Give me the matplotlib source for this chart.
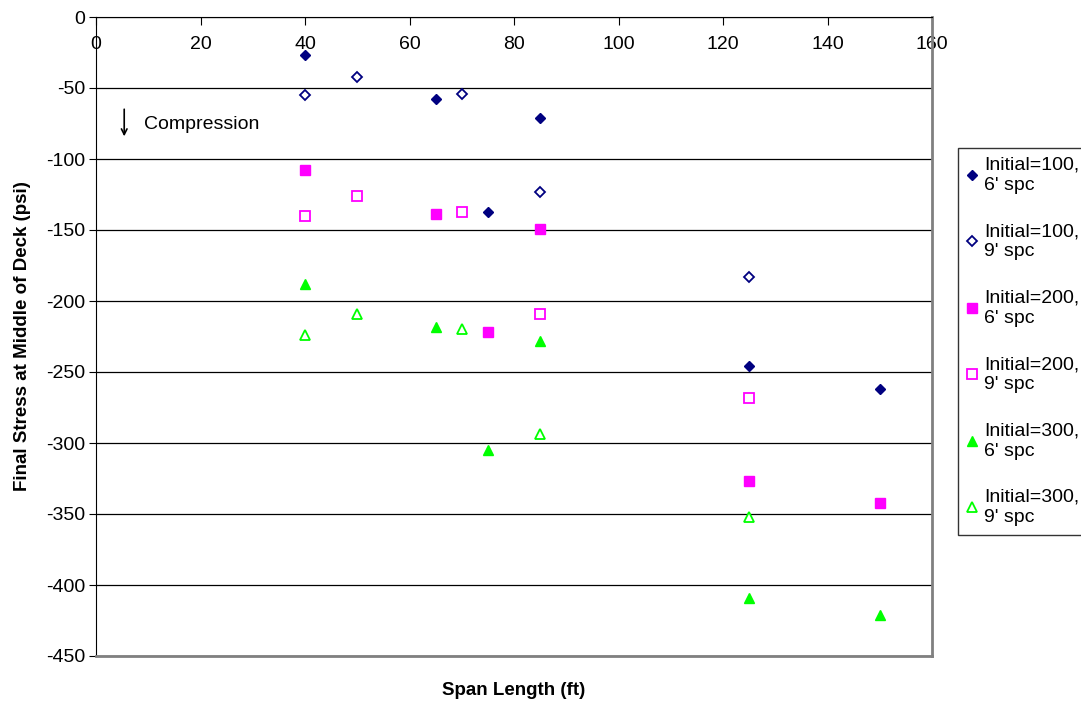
import matplotlib
matplotlib.use("Agg")
import matplotlib.pyplot as plt

plt.rcParams['font.family'] = ['Liberation Sans', 'DejaVu Sans']
plt.rcParams['axes.unicode_minus'] = False

# Span lengths (ft)
span_6 = [40, 65, 75, 85, 125, 150]
span_9 = [40, 50, 70, 85, 125]

# Final stress (psi)
s100_6 = [-27, -58, -137, -71, -246, -262]
s100_9 = [-55, -42, -54, -123, -183]
s200_6 = [-108, -139, -222, -149, -327, -342]
s200_9 = [-140, -126, -137, -209, -268]
s300_6 = [-188, -218, -305, -228, -409, -421]
s300_9 = [-224, -209, -220, -294, -352]

labels = ["Initial=100,\n6' spc", "Initial=100,\n9' spc",
          "Initial=200,\n6' spc", "Initial=200,\n9' spc",
          "Initial=300,\n6' spc", "Initial=300,\n9' spc"]

navy = '#000080'
mag = '#FF00FF'
lime = '#00FF00'

fig = plt.figure(figsize=(10.81, 7.03), dpi=100)
ax = fig.add_axes([96 / 1081, 1 - 656 / 703, 836 / 1081, 639 / 703])

ax.plot(span_6, s100_6, 'D', ms=5.5, color=navy, ls='none', label=labels[0])
ax.plot(span_9, s100_9, 'D', ms=5.5, mfc='white', mec=navy, mew=1.3, ls='none', label=labels[1])
ax.plot(span_6, s200_6, 's', ms=6.5, color=mag, ls='none', label=labels[2])
ax.plot(span_9, s200_9, 's', ms=6.5, mfc='white', mec=mag, mew=1.3, ls='none', label=labels[3])
ax.plot(span_6, s300_6, '^', ms=7, color=lime, ls='none', label=labels[4])
ax.plot(span_9, s300_9, '^', ms=7, mfc='white', mec=lime, mew=1.3, ls='none', label=labels[5])

ax.set_xlim(0, 160)
ax.set_ylim(-450, 0)
ax.set_xticks(range(0, 161, 20))
ax.set_yticks(range(-450, 1, 50))

ax.yaxis.grid(True, color='black', lw=0.9)
ax.set_axisbelow(True)

# x axis crosses at y = 0
ax.spines['bottom'].set_position(('data', 0))
ax.spines['bottom'].set_color('black')
ax.spines['top'].set_visible(False)
ax.spines['left'].set_color('black')
ax.spines['right'].set_color('#808080')
ax.spines['right'].set_linewidth(2)
ax.plot([0, 1], [0, 0], transform=ax.transAxes, color='#808080', lw=2,
        clip_on=False, zorder=3)

ax.tick_params(axis='x', direction='out', length=6, pad=8, labelsize=14)
ax.tick_params(axis='y', direction='out', length=5, pad=3, labelsize=14)

ax.set_xlabel('Span Length (ft)', fontsize=13.5, fontweight='bold')
ax.xaxis.set_label_coords(0.5, -0.04)
ax.set_ylabel('Final Stress at Middle of Deck (psi)', fontsize=13.5, fontweight='bold')
ax.yaxis.set_label_coords(-0.078, 0.5)

# compression note
ax.annotate('', xy=(5.4, -86), xytext=(5.4, -63),
            arrowprops=dict(arrowstyle='->', color='black', lw=1.2))
ax.text(9.2, -76, 'Compression', fontsize=14, va='center', ha='left')

leg = fig.legend(loc='upper left', bbox_to_anchor=(958 / 1081, 1 - 148 / 703),
                 fontsize=14, frameon=True, fancybox=False, edgecolor='black',
                 labelspacing=1.5, handlelength=0.5, handletextpad=0.4,
                 borderpad=0.45, borderaxespad=0)
leg.get_frame().set_linewidth(1.0)
for t in leg.get_texts():
    t.set_linespacing(1.25)

fig.savefig('out.png', dpi=100)
